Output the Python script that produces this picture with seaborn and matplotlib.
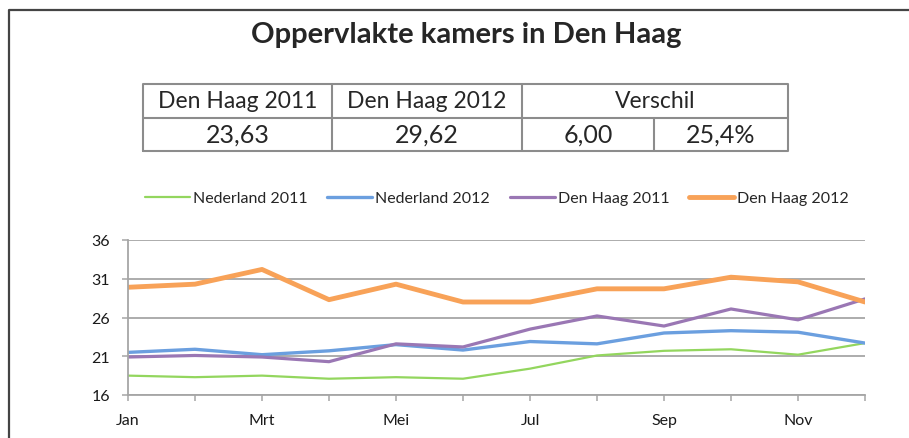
import pandas as pd
import seaborn as sns
import matplotlib.pyplot as plt
from matplotlib.lines import Line2D

months = ["Jan", "Feb", "Mrt", "Apr", "Mei", "Jun", "Jul", "Aug", "Sep", "Okt", "Nov", "Dec"]
nederland_2011 = [18.5, 18.3, 18.5, 18.1, 18.3, 18.1, 19.4, 21.1, 21.7, 21.9, 21.2, 22.7]
nederland_2012 = [21.5, 21.9, 21.2, 21.7, 22.5, 21.8, 22.9, 22.6, 24.0, 24.3, 24.1, 22.7]
den_haag_2011 = [20.9, 21.1, 20.9, 20.3, 22.6, 22.2, 24.5, 26.2, 24.9, 27.1, 25.7, 28.4]
den_haag_2012 = [29.9, 30.3, 32.2, 28.3, 30.3, 28.0, 28.0, 29.7, 29.7, 31.2, 30.6, 28.0]

table_header = ["Den Haag 2011", "Den Haag 2012", "Verschil"]
table_values = ["23,63", "29,62", "6,00", "25,4%"]

series = {
    "Nederland 2011": nederland_2011,
    "Nederland 2012": nederland_2012,
    "Den Haag 2011": den_haag_2011,
    "Den Haag 2012": den_haag_2012,
}
colors = {"Nederland 2011": "#93d65e", "Nederland 2012": "#6b9fdf",
          "Den Haag 2011": "#9a77b4", "Den Haag 2012": "#f8a258"}
widths = {"Nederland 2011": 1.6, "Nederland 2012": 2.4,
          "Den Haag 2011": 2.3, "Den Haag 2012": 3.5}

df = pd.DataFrame(series)
df["idx"] = range(len(months))
long = df.melt(id_vars="idx", var_name="reeks", value_name="m2")

sns.set_style("white")
plt.rcParams["font.family"] = ["Lato", "DejaVu Sans"]

fig = plt.figure(figsize=(9.09, 4.39), dpi=100)

# outer frame
fig.add_artist(Line2D([9/909, 9/909, 1.0], [0.0, 1 - 11/439, 1 - 11/439],
                      transform=fig.transFigure, color="#444444", lw=1.6))

fig.text(466/909, 1 - 35/439, "Oppervlakte kamers in Den Haag",
         ha="center", va="center", fontsize=21, fontweight="bold")

# summary table
tax = fig.add_axes([143/909, 1 - 152/439, 645/909, 67/439])
tax.set_xlim(0, 645)
tax.set_ylim(0, 67)
tax.axis("off")
gc = "#8c8c8c"
tax.plot([0, 645, 645, 0, 0], [0, 0, 67, 67, 0], color=gc, lw=1.5, clip_on=False)
tax.plot([0, 645], [33.5, 33.5], color=gc, lw=1.5)
for xv in [189, 379]:
    tax.plot([xv, xv], [0, 67], color=gc, lw=1.5)
tax.plot([511, 511], [0, 33.5], color=gc, lw=1.5)
hx = [94.5, 284, 512]
for x, t in zip(hx, table_header):
    tax.text(x, 50, t, ha="center", va="center", fontsize=16.5)
vx = [94.5, 284, 445, 578]
for x, t in zip(vx, table_values):
    tax.text(x, 16.5, t, ha="center", va="center", fontsize=18)

# line chart
ax = fig.add_axes([128/909, 1 - 396/439, (865 - 128)/909, (396 - 241)/439])
for name in series:
    sub = long[long["reeks"] == name]
    sns.lineplot(data=sub, x="idx", y="m2", ax=ax, color=colors[name],
                 linewidth=widths[name], label=name, legend=False)

ax.set_xlim(0, len(months) - 1)
ax.set_ylim(16, 36)
ax.set_yticks([16, 21, 26, 31, 36])
ax.set_xticks(range(len(months)))
ax.set_xticklabels([m if i % 2 == 0 else "" for i, m in enumerate(months)])
ax.set_xlabel("")
ax.set_ylabel("")
ax.grid(axis="y", color="#a6a6a6", lw=1.3)
ax.set_axisbelow(True)
for s in ["top", "right"]:
    ax.spines[s].set_visible(False)
for s in ["left", "bottom"]:
    ax.spines[s].set_color("#a6a6a6")
    ax.spines[s].set_linewidth(1.3)
ax.tick_params(axis="both", which="both", length=4, width=1.1, color="#a6a6a6",
               labelsize=11.5, direction="out", labelcolor="#1a1a1a")
ax.tick_params(axis="y", pad=9)
ax.tick_params(axis="x", pad=9)
ax.yaxis.set_ticks_position("left")
ax.xaxis.set_ticks_position("bottom")

handles, labels = ax.get_legend_handles_labels()
fig.legend(handles, labels, loc="center", bbox_to_anchor=(497/909, 1 - 199/439),
           ncol=4, frameon=False, fontsize=11.5, handlelength=2.8,
           handletextpad=0.2, columnspacing=1.25)

fig.savefig("out.png", dpi=100)
